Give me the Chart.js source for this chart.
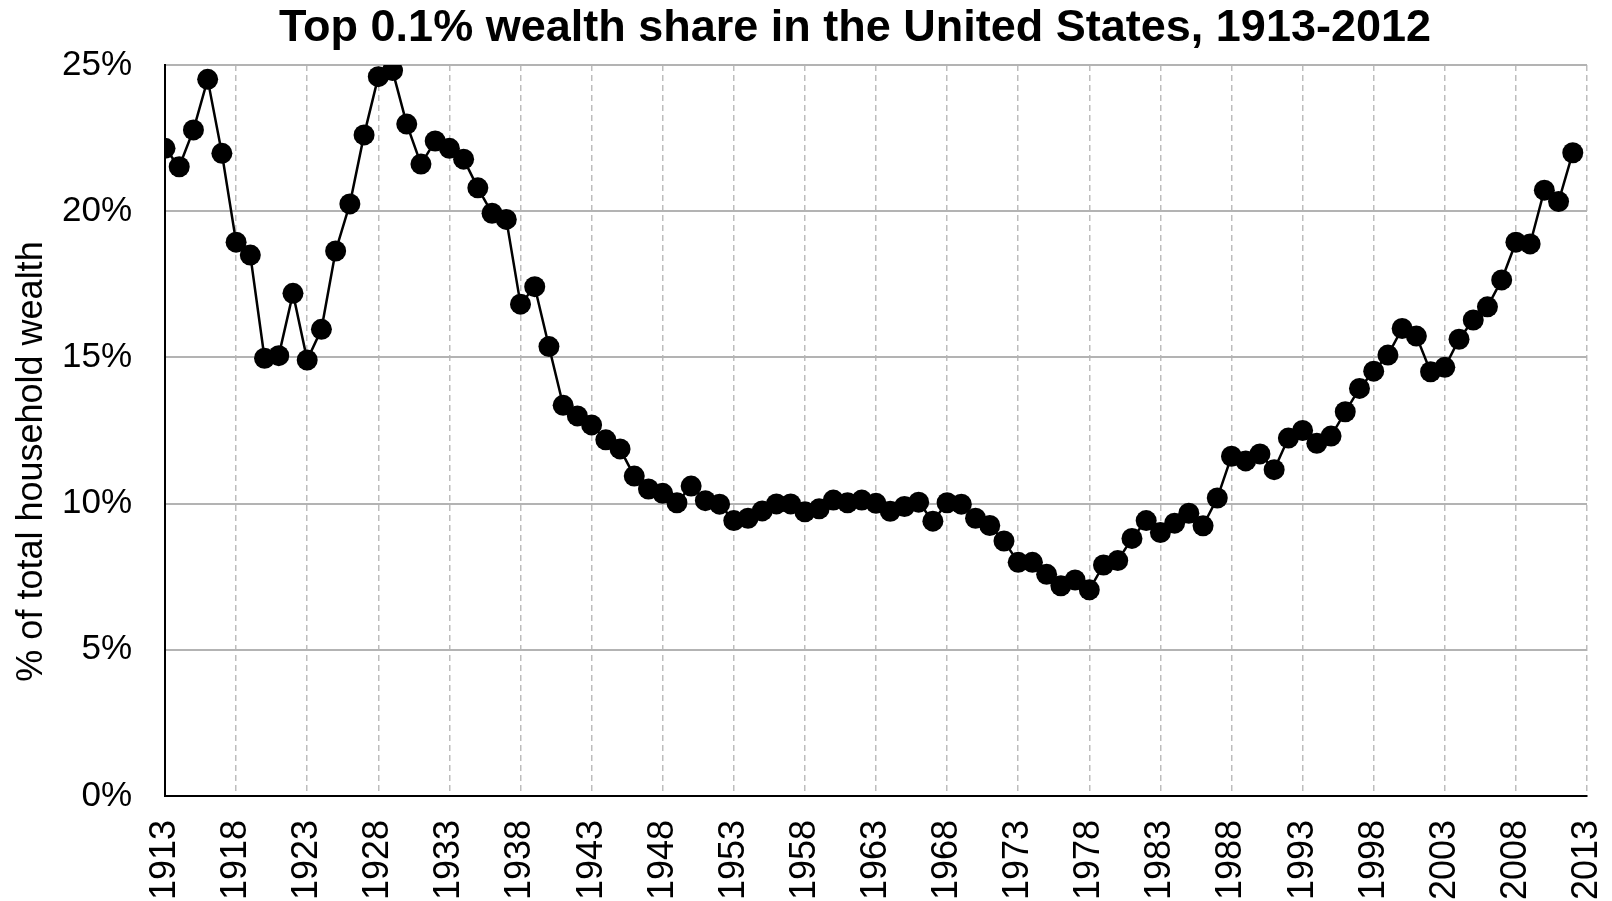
<!DOCTYPE html>
<html>
<head>
<meta charset="utf-8">
<script src="https://cdn.jsdelivr.net/npm/chart.js@4"></script>
<style>
  html, body { margin: 0; padding: 0; background: #fff; }
  #wrap { width: 1612px; height: 901px; }
</style>
</head>
<body>
<div id="wrap"><canvas id="wealth"></canvas></div>
<script>
/**
 * Top 0.1% wealth share, US 1913-2012
 */
const FIRST_YEAR = 1913;
const LAST_TICK_YEAR = 2013;

const shares = [
  22.15, 21.52, 22.78, 24.51, 21.98, 18.94, 18.50, 14.97, 15.06, 17.19,
  14.91, 15.96, 18.64, 20.25, 22.61, 24.60, 24.81, 22.98, 21.61, 22.40,
  22.15, 21.78, 20.80, 19.93, 19.72, 16.82, 17.42, 15.37, 13.36, 13.00,
  12.69, 12.18, 11.87, 10.94, 10.50, 10.35, 10.03, 10.60, 10.10, 9.98,
  9.42, 9.50, 9.75, 9.99, 9.99, 9.72, 9.82, 10.12, 10.03, 10.12,
  10.01, 9.74, 9.90, 10.05, 9.40, 10.03, 9.98, 9.50, 9.25, 8.72,
  7.99, 7.99, 7.58, 7.19, 7.39, 7.05, 7.90, 8.05, 8.81, 9.42,
  9.01, 9.33, 9.67, 9.24, 10.19, 11.62, 11.46, 11.70, 11.16, 12.24,
  12.50, 12.06, 12.31, 13.14, 13.94, 14.53, 15.08, 15.99, 15.73, 14.51,
  14.66, 15.62, 16.28, 16.73, 17.65, 18.94, 18.88, 20.72, 20.33, 22.00
];
const years = shares.map((_, i) => FIRST_YEAR + i);

const yTicks = [0, 5, 10, 15, 20, 25];

const font = 'Arial, "Liberation Sans", sans-serif';

const data = {
  datasets: [{
    label: 'Top 0.1% wealth share',
    data: years.map((yr, i) => ({x: yr, y: shares[i]})),
    borderColor: '#000',
    borderWidth: 2.5,
    backgroundColor: '#000',
    pointBackgroundColor: '#000',
    pointBorderWidth: 0,
    pointRadius: 10.5,
    tension: 0,
  }]
};

// Excel centres the titles on the whole picture, not on the plot
const titleShift = {
  id: 'titleShift',
  afterLayout(chart) {
    chart.titleBlock.left -= 42;
    const y = chart.scales.y;
    if (!y._titleShifted) {
      const draw = y.drawTitle;
      y.drawTitle = function () {
        this.ctx.save();
        this.ctx.translate(0, 31);
        draw.call(this);
        this.ctx.restore();
      };
      y._titleShifted = true;
    }
  }
};

const config = {
  type: 'line',
  data: data,
  plugins: [titleShift],
  options: {
    responsive: true,
    maintainAspectRatio: false,
    animation: false,
    layout: {
      padding: {left: 6, right: 25, top: 0, bottom: 0}
    },
    plugins: {
      legend: {display: false},
      tooltip: {enabled: false},
      title: {
        display: true,
        fullSize: false,
        text: 'Top 0.1% wealth share in the United States, 1913-2012',
        color: '#000',
        font: {family: font, size: 45, weight: 'bold'},
        padding: {top: 2, bottom: 9}
      }
    },
    scales: {
      x: {
        type: 'linear',
        min: FIRST_YEAR,
        max: LAST_TICK_YEAR,
        afterFit: axis => {
          axis.height = 105;
          axis.paddingLeft = 0;
          axis.paddingRight = 0;
        },
        grid: {
          color: '#bdbdbd',
          lineWidth: 1.5,
          drawTicks: false
        },
        border: {color: '#000', width: 2, dash: [6, 4]},
        ticks: {
          stepSize: 5,
          autoSkip: false,
          minRotation: 90,
          maxRotation: 90,
          padding: 24,
          color: '#000',
          font: {family: font, size: 36},
          callback: v => String(v)
        }
      },
      y: {
        min: yTicks[0],
        max: yTicks[yTicks.length - 1],
        afterBuildTicks: axis => { axis.ticks = yTicks.map(v => ({value: v})); },
        afterFit: axis => { axis.width = 159; },
        grid: {
          color: '#b3b3b3',
          lineWidth: 2,
          drawTicks: false
        },
        border: {color: '#000', width: 2},
        ticks: {
          padding: 33,
          color: '#000',
          font: {family: font, size: 35},
          callback: v => v + '%'
        },
        title: {
          display: true,
          text: '% of total household wealth',
          color: '#000',
          font: {family: font, size: 36},
          padding: {top: 4, bottom: 0}
        }
      }
    }
  }
};

const wealthChart = new Chart(
  document.getElementById('wealth'),
  config
);
</script>
</body>
</html>
